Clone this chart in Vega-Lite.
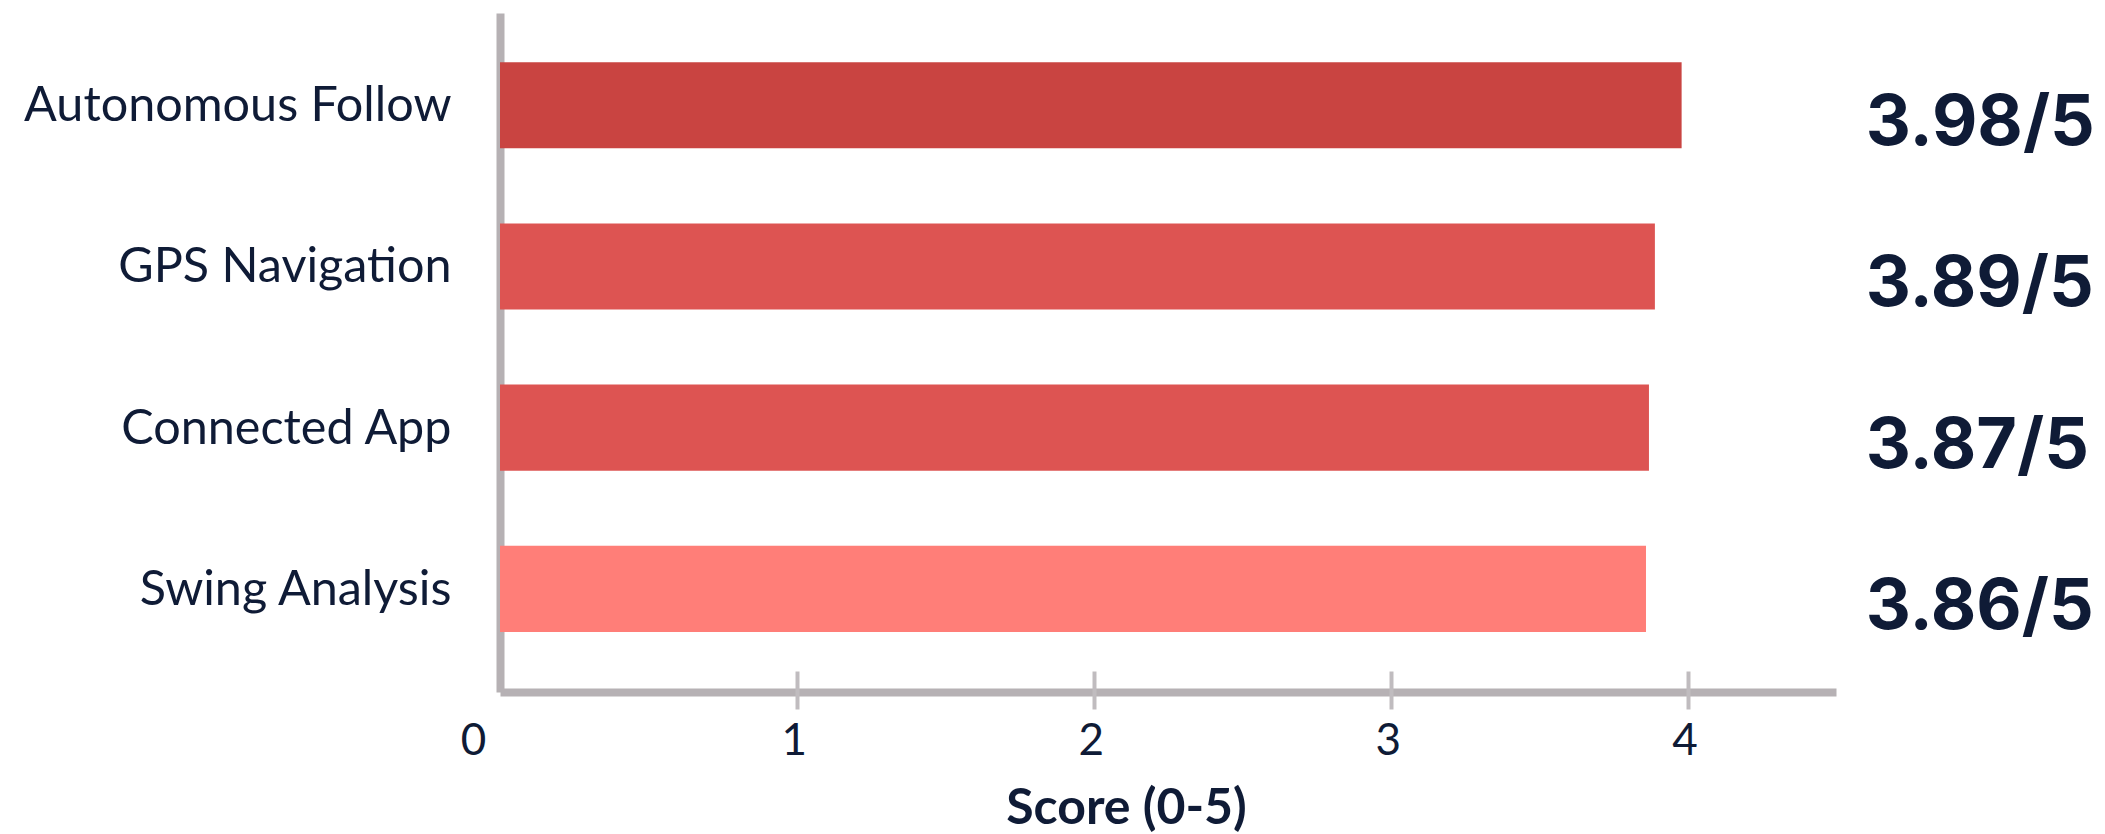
{
  "$schema": "https://vega.github.io/schema/vega-lite/v6.json",
  "autosize": "none",
  "width": 1336,
  "height": 679,
  "padding": {"left": 500, "top": 13, "right": 269, "bottom": 142},
  "background": "white",
  "config": {"view": {"stroke": null}},
  "data": {
    "values": [
      {"feature": "Autonomous Follow", "score": 3.98},
      {"feature": "GPS Navigation", "score": 3.89},
      {"feature": "Connected App", "score": 3.87},
      {"feature": "Swing Analysis", "score": 3.86}
    ]
  },
  "encoding": {
    "y": {
      "field": "feature",
      "type": "nominal",
      "sort": null,
      "scale": {"paddingInner": 0.466, "paddingOuter": 0.339, "align": 0.45},
      "axis": {
        "title": null,
        "ticks": false,
        "tickSize": 0,
        "domain": true,
        "domainColor": "#b6b1b4",
        "domainWidth": 8,
        "labelFont": "Lato",
        "labelFontSize": 48.5,
        "labelColor": "#0f1b36",
        "labelPadding": 49,
        "labelAlign": "right",
        "labelBaseline": "alphabetic",
        "labelOffset": 16,
        "labelLimit": 0
      }
    }
  },
  "layer": [
    {
      "mark": {"type": "bar"},
      "encoding": {
        "x": {
          "field": "score",
          "type": "quantitative",
          "scale": {"domain": [0, 4.5], "nice": false},
          "axis": {
            "values": [0, 1, 2, 3, 4],
            "grid": false,
            "ticks": false,
            "tickSize": 0,
            "domain": true,
            "domainColor": "#b6b1b4",
            "domainWidth": 8,
            "labelFont": "Lato",
            "labelFontSize": 44,
            "labelColor": "#0f1b36",
            "labelBaseline": "alphabetic",
            "labelPadding": 62,
            "labelFlush": false,
            "labelOffset": {"condition": {"test": "datum.value === 0", "value": -27}, "value": -3},
            "title": "Score (0-5)",
            "titleFont": "Lato",
            "titleFontWeight": "bold",
            "titleFontSize": 50,
            "titleColor": "#0f1b36",
            "titleBaseline": "alphabetic",
            "titleX": 626,
            "titleY": 131
          }
        },
        "color": {
          "field": "feature",
          "type": "nominal",
          "scale": {
            "domain": ["Autonomous Follow", "GPS Navigation", "Connected App", "Swing Analysis"],
            "range": ["#c94441", "#dd5452", "#dd5452", "#ff7e78"]
          },
          "legend": null
        }
      }
    },
    {
      "mark": {
        "type": "text",
        "align": "left",
        "baseline": "alphabetic",
        "dy": 40,
        "font": "Inter",
        "fontWeight": 700,
        "fontSize": 70,
        "color": "#0f1b36",
        "text": {"expr": "format(datum.score, '.2f') + '/5'"}
      },
      "encoding": {
        "x": {
          "datum": 4.6,
          "type": "quantitative",
          "axis": {
            "orient": "bottom",
            "values": [1, 2, 3, 4],
            "offset": -21,
            "grid": false,
            "domain": false,
            "labels": false,
            "ticks": true,
            "tickSize": 38,
            "tickWidth": 4,
            "tickColor": "#c0bcbf",
            "title": null
          }
        }
      }
    }
  ],
  "resolve": {"axis": {"x": "independent"}}
}
